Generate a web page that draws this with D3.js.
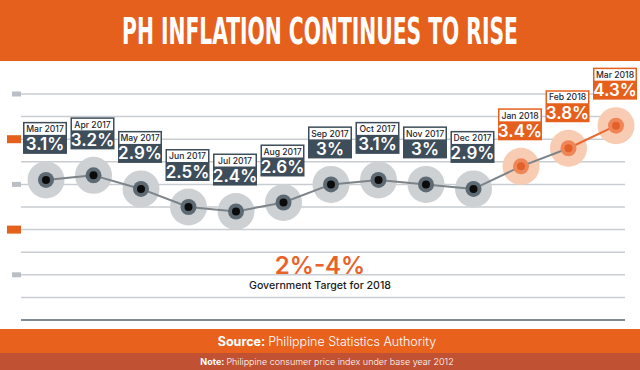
<!DOCTYPE html>
<html>
<head>
<meta charset="utf-8">
<script src="https://cdn.jsdelivr.net/npm/d3@7"></script>
<style>
  body { margin: 0; background: #fff; }
  svg { display: block; }
</style>
</head>
<body>
<div id="chart"></div>
<script>
const months = ['Mar 2017', 'Apr 2017', 'May 2017', 'Jun 2017', 'Jul 2017', 'Aug 2017', 'Sep 2017',
  'Oct 2017', 'Nov 2017', 'Dec 2017', 'Jan 2018', 'Feb 2018', 'Mar 2018']
const rates = [3.1, 3.2, 2.9, 2.5, 2.4, 2.6, 3.0, 3.1, 3.0, 2.9, 3.4, 3.8, 4.3]
const gridTicks = [0, 0.5, 1, 1.5, 2, 2.5, 3, 3.5, 4, 4.5, 5]
const markerTicks = [1, 2, 3, 4, 5]
const target = [2, 4]

const width = 640
const height = 370
const orange = '#e6601d'
const dark = '#3e4d5a'

const svg = d3
  .select('#chart')
  .append('svg')
  .attr('width', width)
  .attr('height', height)
  .style('font-family', 'Inter, sans-serif')

const x = d3.scalePoint().domain(months).range([46, 616])
const y = d3.scaleLinear().domain([0, 5]).range([320, 94])

const data = months.map((m, i) => ({ month: m, rate: rates[i], hot: m.includes('2018') }))

// title bar
svg.append('rect').attr('width', width).attr('height', 61).attr('fill', orange)
const title = svg
  .append('text')
  .attr('text-anchor', 'middle')
  .attr('fill', '#fff')
  .style('font-family', '"Liberation Sans Narrow", "DejaVu Sans Condensed", sans-serif')
  .style('font-weight', 'bold')
  .style('font-size', '37px')
  .text('PH INFLATION CONTINUES TO RISE')
// squeeze it to the width of the condensed headline face
const tw = title.node().getComputedTextLength()
title.attr('transform', `translate(${width / 2},44) scale(${396 / tw},1)`)

// gridlines
svg
  .append('g')
  .selectAll('line')
  .data(gridTicks)
  .join('line')
  .attr('x1', 21)
  .attr('x2', 625)
  .attr('y1', d => y(d))
  .attr('y2', d => y(d))
  .attr('stroke', d => (d === 0 ? '#55636f' : '#c9cdd1'))
  .attr('stroke-width', 1.5)

// side markers, orange for the target band edges
svg
  .append('g')
  .selectAll('rect')
  .data(markerTicks)
  .join('rect')
  .attr('x', d => (target.includes(d) ? 7 : 12))
  .attr('width', d => (target.includes(d) ? 14 : 9))
  .attr('y', d => y(d) - (target.includes(d) ? 4 : 2.5))
  .attr('height', d => (target.includes(d) ? 8 : 5))
  .attr('fill', d => (target.includes(d) ? orange : '#b9bfc4'))

// halos
svg
  .append('g')
  .selectAll('circle')
  .data(data)
  .join('circle')
  .attr('cx', d => x(d.month))
  .attr('cy', d => y(d.rate))
  .attr('r', 18.5)
  .attr('fill', d => (d.hot ? '#f8cbb3' : '#cdd1d4'))

// connecting line, last stretch in orange
const segs = d3.pairs(data)
svg
  .append('g')
  .selectAll('line')
  .data(segs)
  .join('line')
  .attr('x1', d => x(d[0].month))
  .attr('y1', d => y(d[0].rate))
  .attr('x2', d => x(d[1].month))
  .attr('y2', d => y(d[1].rate))
  .attr('stroke', (d, i) => (i === segs.length - 1 ? '#e8692f' : '#7c8489'))
  .attr('stroke-width', 2)

const dots = svg
  .append('g')
  .selectAll('g')
  .data(data)
  .join('g')
  .attr('transform', d => `translate(${x(d.month)},${y(d.rate)})`)

dots
  .append('circle')
  .attr('r', 8)
  .attr('fill', d => (d.hot ? '#ee8658' : '#5e6a73'))
dots
  .append('circle')
  .attr('r', 4)
  .attr('fill', d => (d.hot ? '#e4602a' : '#0b0b0b'))

// label boxes
const tags = svg
  .append('g')
  .selectAll('g')
  .data(data)
  .join('g')
  .attr('transform', d => `translate(${x(d.month) - 1},${y(d.rate)})`)

tags
  .append('rect')
  .attr('x', -22)
  .attr('y', -58)
  .attr('width', 44)
  .attr('height', 32)
  .attr('fill', d => (d.hot ? orange : dark))
tags
  .append('rect')
  .attr('x', -20.5)
  .attr('y', -56.5)
  .attr('width', 41)
  .attr('height', 11.5)
  .attr('fill', '#fff')
tags
  .append('text')
  .attr('y', -47.8)
  .attr('text-anchor', 'middle')
  .attr('fill', '#1e262d')
  .style('font-size', '8.6px')
  .style('font-weight', 500)
  .text(d => d.month)
tags
  .append('text')
  .attr('y', -29.5)
  .attr('text-anchor', 'middle')
  .attr('fill', '#fff')
  .style('font-size', '17px')
  .style('font-weight', 600)
  .text(d => d.rate + '%')

// target note
svg
  .append('text')
  .attr('x', 320)
  .attr('y', 273.5)
  .attr('text-anchor', 'middle')
  .attr('fill', '#e8622a')
  .style('font-size', '24px')
  .style('font-weight', 600)
  .text(target[0] + '%-' + target[1] + '%')
svg
  .append('text')
  .attr('x', 320)
  .attr('y', 289)
  .attr('text-anchor', 'middle')
  .attr('fill', '#1b1b1b')
  .style('font-size', '10.6px')
  .style('font-weight', 500)
  .text('Government Target for 2018')

// footer bars
svg.append('rect').attr('y', 329).attr('width', width).attr('height', 24).attr('fill', '#e8621e')
svg.append('rect').attr('y', 353).attr('width', width).attr('height', 17).attr('fill', '#c05132')

const src = svg
  .append('text')
  .attr('x', 327)
  .attr('y', 346)
  .attr('text-anchor', 'middle')
  .attr('fill', '#fff')
  .style('font-size', '12.5px')
src.append('tspan').style('font-weight', 700).text('Source: ')
src.append('tspan').style('font-weight', 300).text('Philippine Statistics Authority')

const note = svg
  .append('text')
  .attr('x', 327)
  .attr('y', 365)
  .attr('text-anchor', 'middle')
  .attr('fill', '#fff')
  .style('font-size', '9px')
note.append('tspan').style('font-weight', 700).text('Note: ')
note.append('tspan').style('font-weight', 300).text('Philippine consumer price index under base year 2012')
</script>
</body>
</html>
